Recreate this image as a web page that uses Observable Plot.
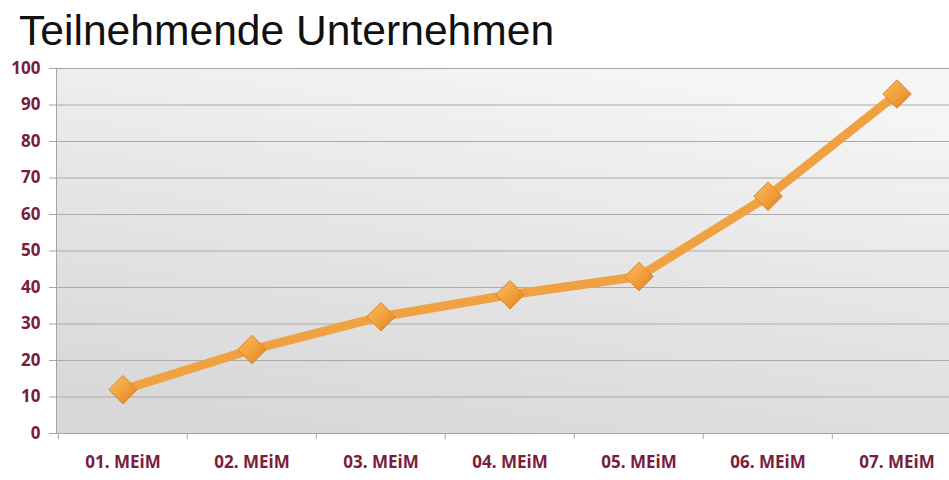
<!DOCTYPE html>
<html>
<head>
<meta charset="utf-8">
<script src="https://cdn.jsdelivr.net/npm/d3@7"></script>
<script src="https://cdn.jsdelivr.net/npm/@observablehq/plot@0.6"></script>
<style>
  html, body { margin: 0; padding: 0; background: #ffffff; overflow: hidden; width: 949px; height: 480px; }
  #title { height: 58px; font-family: "Liberation Sans", Arial, sans-serif; font-size: 42.6px; color: #111; padding-left: 19px; line-height: 60px; white-space: nowrap; }
  #chart svg { display: block; max-width: none !important; }
</style>
</head>
<body>
<div id="title">Teilnehmende Unternehmen</div>
<div id="chart"></div>
<script>
const categories = ["01. MEiM", "02. MEiM", "03. MEiM", "04. MEiM", "05. MEiM", "06. MEiM", "07. MEiM"];
const values = [12, 23, 32, 38, 43, 65, 93];
const yTicks = [0, 10, 20, 30, 40, 50, 60, 70, 80, 90, 100];

const data = categories.map((c, i) => ({cat: c, value: values[i]}));

const W = 962, ML = 56, MR = 0;
const bw = (W - ML - MR) / categories.length;
const labelColor = "#7b1c3c";

const chart = Plot.plot({
  width: W,
  height: 422,
  marginTop: 10,
  marginBottom: 47,
  marginLeft: ML,
  marginRight: MR,
  style: {fontFamily: "'Open Sans', sans-serif", fontSize: "17px", fontWeight: "bold", background: "transparent", overflow: "visible", maxWidth: "none"},
  x: {type: "band", domain: categories, padding: 0},
  y: {domain: [0, 100]},
  marks: [
    Plot.frame({fill: "url(#bgGrad)", stroke: "none"}),
    Plot.gridY(yTicks, {stroke: "#ababab", strokeOpacity: 1, strokeWidth: 1}),
    Plot.frame({stroke: "#a5a5a5", strokeWidth: 1}),
    Plot.axisY(yTicks, {tickSize: 7, tickPadding: 9, stroke: "#a5a5a5", fill: labelColor, label: null}),
    Plot.axisX({tickSize: 6, tickFormat: () => "", stroke: "#a5a5a5", dx: -bw / 2, label: null}),
    Plot.axisX({tickSize: 0, tickPadding: 22, fill: labelColor, label: null}),
    Plot.line(data, {x: "cat", y: "value", stroke: "#f0a243", strokeWidth: 9, strokeLinejoin: "round", strokeLinecap: "butt"}),
    Plot.dot(data, {x: "cat", y: "value", symbol: "diamond2", r: 12.8, fill: "url(#diaGrad)", stroke: "#d8862a", strokeWidth: 1})
  ]
});

const ns = "http://www.w3.org/2000/svg";
const defs = document.createElementNS(ns, "defs");
defs.innerHTML = `
  <linearGradient id="bgGrad" gradientUnits="objectBoundingBox" x1="0.3" y1="1" x2="0.7" y2="0">
    <stop offset="0" stop-color="#d8d8d8"/>
    <stop offset="0.5" stop-color="#e5e5e5"/>
    <stop offset="1" stop-color="#f6f6f6"/>
  </linearGradient>
  <linearGradient id="diaGrad" x1="0" y1="0" x2="1" y2="1">
    <stop offset="0" stop-color="#fbbd5e"/>
    <stop offset="0.5" stop-color="#f2a13f"/>
    <stop offset="1" stop-color="#d9801c"/>
  </linearGradient>`;
chart.insertBefore(defs, chart.firstChild);
document.getElementById("chart").appendChild(chart);
</script>
</body>
</html>
